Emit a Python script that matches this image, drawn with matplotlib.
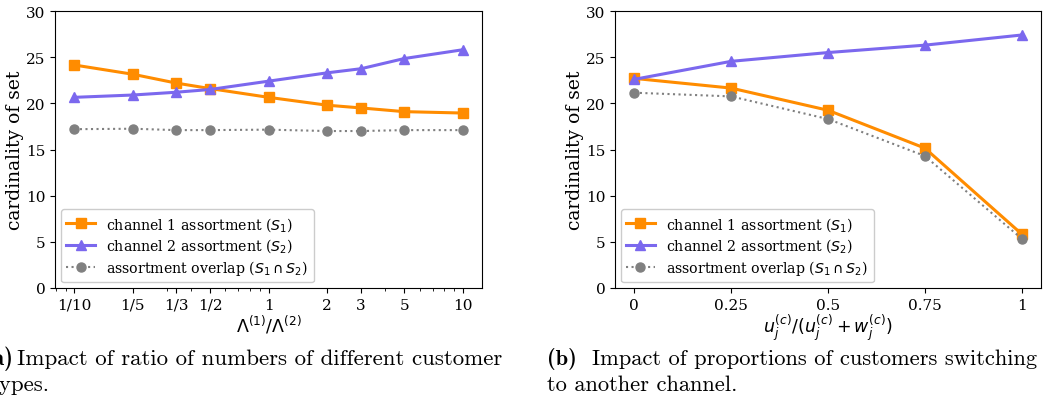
import matplotlib
matplotlib.use("Agg")
import matplotlib.pyplot as plt
from matplotlib.ticker import FixedLocator, FixedFormatter, NullFormatter, LogLocator

# (a) ratio of customer-type counts
ratio_x = [0.1, 0.2, 1 / 3, 0.5, 1, 2, 3, 5, 10]
ratio_labels = ["1/10", "1/5", "1/3", "1/2", "1", "2", "3", "5", "10"]
ratio_s1 = [24.15, 23.15, 22.2, 21.6, 20.65, 19.8, 19.5, 19.1, 18.95]
ratio_s2 = [20.65, 20.9, 21.2, 21.5, 22.4, 23.3, 23.75, 24.85, 25.8]
ratio_overlap = [17.2, 17.25, 17.1, 17.1, 17.15, 17.0, 17.0, 17.1, 17.1]

# (b) proportion of customers switching channel
switch_x = [0, 0.25, 0.5, 0.75, 1]
switch_labels = ["0", "0.25", "0.5", "0.75", "1"]
switch_s1 = [22.7, 21.65, 19.25, 15.15, 5.85]
switch_s2 = [22.6, 24.55, 25.5, 26.3, 27.4]
switch_overlap = [21.15, 20.75, 18.3, 14.3, 5.35]

series_names = [r"channel 1 assortment ($S_1$)",
                r"channel 2 assortment ($S_2$)",
                r"assortment overlap ($S_1 \cap S_2$)"]

plt.rcParams["font.family"] = "DejaVu Serif"
plt.rcParams["mathtext.fontset"] = "dejavusans"

W, H = 1043, 406
fig = plt.figure(figsize=(W / 100, H / 100), dpi=100)


def px_axes(x0, y0, x1, y1):
    return fig.add_axes([x0 / W, 1 - y1 / H, (x1 - x0) / W, (y1 - y0) / H])


def draw(ax, x, s1, s2, ov):
    ax.plot(x, s1, color="darkorange", marker="s", lw=2.2, ms=7, label=series_names[0])
    ax.plot(x, s2, color="mediumslateblue", marker="^", lw=2.2, ms=7, label=series_names[1])
    ax.plot(x, ov, color="gray", marker="o", ls=":", lw=1.5, ms=6.5, label=series_names[2])
    ax.set_ylim(0, 30)
    ax.set_yticks(range(0, 31, 5))
    ax.tick_params(labelsize=11)
    ax.set_ylabel("cardinality of set", fontsize=13.5, labelpad=1)
    ax.legend(loc="lower left", fontsize=10.2, framealpha=1, borderaxespad=0.4,
              handlelength=2.0, labelspacing=0.25)


ax1 = px_axes(55, 12, 482, 289)
draw(ax1, ratio_x, ratio_s1, ratio_s2, ratio_overlap)
ax1.set_xscale("log")
ax1.xaxis.set_major_locator(FixedLocator(ratio_x))
ax1.xaxis.set_major_formatter(FixedFormatter(ratio_labels))
ax1.xaxis.set_minor_locator(LogLocator(subs=range(2, 10)))
ax1.xaxis.set_minor_formatter(NullFormatter())
ax1.set_xlabel(r"$\Lambda^{(1)}/\Lambda^{(2)}$", fontsize=12.5, labelpad=1)

ax2 = px_axes(615, 12, 1041, 289)
draw(ax2, switch_x, switch_s1, switch_s2, switch_overlap)
ax2.set_xticks(switch_x)
ax2.set_xticklabels(switch_labels)
ax2.set_xlabel(r"$u_j^{(c)}/(u_j^{(c)}+w_j^{(c)})$", fontsize=12.5, labelpad=0)

# subfigure captions
cap = dict(va="center", ha="left")
fig.text(-16 / W, 1 - 359 / H, "(a)", family="cmb10", fontsize=16.5, **cap)
fig.text(17 / W, 1 - 359 / H, "Impact of ratio of numbers of different customer",
         family="cmr10", fontsize=16.5, **cap)
fig.text(-9 / W, 1 - 385 / H, "types.", family="cmr10", fontsize=16.5, **cap)
fig.text(547 / W, 1 - 359 / H, "(b)", family="cmb10", fontsize=16.2, **cap)
fig.text(592 / W, 1 - 359 / H, "Impact of proportions of customers switching",
         family="cmr10", fontsize=16.2, **cap)
fig.text(547 / W, 1 - 385 / H, "to another channel.", family="cmr10", fontsize=16.2, **cap)

fig.savefig("out.png", dpi=100)
